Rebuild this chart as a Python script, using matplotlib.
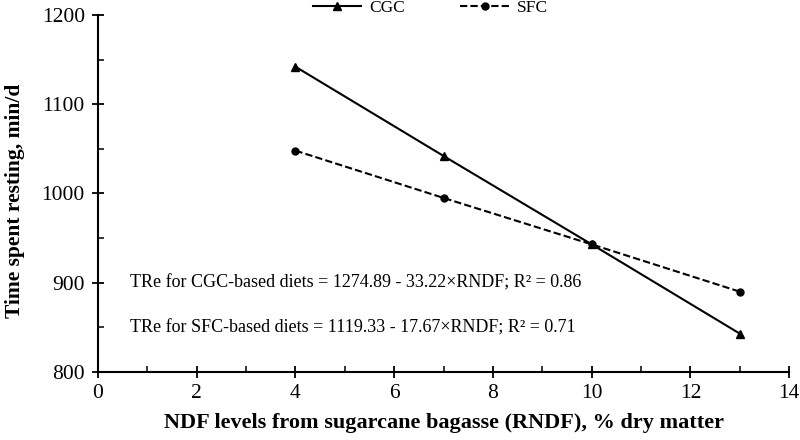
import matplotlib
matplotlib.use('Agg')
import matplotlib.pyplot as plt
from matplotlib.ticker import MultipleLocator

plt.rcParams['font.family'] = ['Liberation Serif', 'DejaVu Serif']

# data
rndf = [4, 7, 10, 13]
cgc = [1142, 1042, 943, 843]
sfc = [1048, 995, 943, 890]
eq_cgc = 'TRe for CGC-based diets = 1274.89 - 33.22×RNDF; R² = 0.86'
eq_sfc = 'TRe for SFC-based diets = 1119.33 - 17.67×RNDF; R² = 0.71'

fig = plt.figure(figsize=(8, 4.4), dpi=100)
ax = fig.add_axes([0.1225, 0.1545, 0.864, 0.8115])

ax.plot(rndf, cgc, color='black', linestyle='-', linewidth=1.5,
        marker='^', markersize=6, label='CGC')
ax.plot(rndf, sfc, color='black', linestyle=(0, (3.5, 1.5)), linewidth=1.5,
        marker='o', markersize=5, label='SFC')

ax.set_xlim(0, 14)
ax.set_ylim(800, 1200)
ax.xaxis.set_major_locator(MultipleLocator(2))
ax.xaxis.set_minor_locator(MultipleLocator(1))
ax.yaxis.set_major_locator(MultipleLocator(100))
ax.yaxis.set_minor_locator(MultipleLocator(50))
ax.tick_params(which='major', direction='inout', length=9, width=1.3,
               labelsize=15.5, pad=4)
ax.tick_params(axis='y', which='major', pad=5)
ax.tick_params(which='minor', direction='in', length=4, width=1.1)
ax.spines['top'].set_visible(False)
ax.spines['right'].set_visible(False)
for s in ['left', 'bottom']:
    ax.spines[s].set_linewidth(1.5)

ax.set_xlabel('NDF levels from sugarcane bagasse (RNDF), % dry matter',
              fontsize=16, fontweight='bold', labelpad=7)
ax.set_ylabel('Time spent resting, min/d', fontsize=15.5, fontweight='bold')
ax.yaxis.set_label_coords(-0.105, 0.48)

ax.text(0.64, 900, eq_cgc, fontsize=13, va='center', ha='left')
ax.text(0.64, 849, eq_sfc, fontsize=13, va='center', ha='left')

fig.legend(loc='center', bbox_to_anchor=(0.538, 0.982), ncol=2,
           frameon=False, fontsize=12.5, handlelength=2.8, columnspacing=3.2,
           handletextpad=0.45, borderpad=0)

fig.savefig('out.png', dpi=100)
